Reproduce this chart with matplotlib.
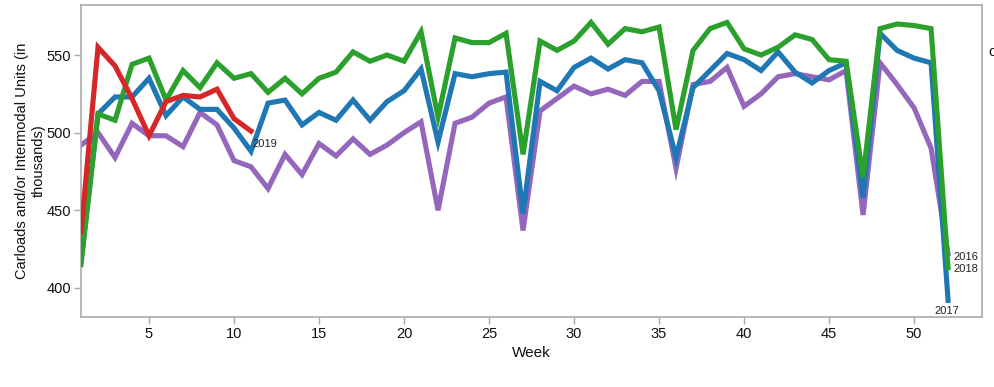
import matplotlib
matplotlib.use("Agg")
import matplotlib.pyplot as plt

plt.rcParams['font.family'] = ['Liberation Sans', 'DejaVu Sans']

weeks = list(range(1, 53))

# carloads + intermodal units, thousands
y2016 = [492, 500, 484, 506, 498, 498, 491, 513, 505, 482, 478, 464,
         486, 473, 493, 485, 496, 486, 492, 500, 507, 450, 506, 510,
         519, 523, 437, 514, 522, 530, 525, 528, 524, 533, 533, 477,
         531, 533, 542, 517, 525, 536, 538, 536, 534, 540, 447, 545,
         531, 516, 490, 422]
y2017 = [418, 512, 523, 523, 535, 511, 523, 515, 515, 503, 488, 519,
         521, 505, 513, 508, 521, 508, 520, 527, 541, 494, 538, 536,
         538, 539, 448, 533, 527, 542, 548, 541, 547, 545, 527, 484,
         529, 540, 551, 547, 540, 552, 539, 532, 540, 545, 458, 564,
         553, 548, 545, 392]
y2018 = [415, 512, 508, 544, 548, 521, 540, 529, 545, 535, 538, 526,
         535, 525, 535, 539, 552, 546, 550, 546, 565, 510, 561, 558,
         558, 564, 486, 559, 553, 559, 571, 557, 567, 565, 568, 502,
         553, 567, 571, 554, 550, 555, 563, 560, 547, 546, 471, 567,
         570, 569, 567, 413]
weeks2019 = list(range(1, 12))
y2019 = [436, 555, 543, 522, 498, 520, 524, 523, 528, 509, 501]

fig = plt.figure(figsize=(9.94, 3.87), dpi=100)
ax = fig.add_axes([0.0815, 0.181, 0.9065, 0.806])

lw = 3.7
ax.plot(weeks, y2016, color='#9467bd', lw=lw, solid_joinstyle='miter', zorder=2)
ax.plot(weeks, y2017, color='#1f77b4', lw=lw, solid_joinstyle='miter', zorder=3)
ax.plot(weeks, y2018, color='#2ca02c', lw=lw, solid_joinstyle='miter', zorder=4)
ax.plot(weeks2019, y2019, color='#d62728', lw=lw, solid_joinstyle='miter', zorder=5)

# end-of-line labels
lab = dict(fontsize=8, color='#222222')
ax.annotate('2016', (weeks[-1], y2016[-1]), xytext=(4, -2), textcoords='offset points',
            ha='left', va='center', **lab)
ax.annotate('2018', (weeks[-1], y2018[-1]), xytext=(4, -1), textcoords='offset points',
            ha='left', va='center', **lab)
ax.annotate('2017', (weeks[-1], y2017[-1]), xytext=(-1, -8), textcoords='offset points',
            ha='center', va='center', **lab)
ax.annotate('2019', (weeks2019[-1], y2019[-1]), xytext=(1, -9), textcoords='offset points',
            ha='left', va='center', **lab)

ax.set_xlim(1, 54)
ax.set_ylim(381.3, 582.2)
ax.set_xticks(range(5, 55, 5))
ax.set_yticks([400, 450, 500, 550])

for s in ax.spines.values():
    s.set_color('#aaaaaa')
    s.set_linewidth(1.2)
ax.tick_params(axis='both', colors='#aaaaaa', labelcolor='#111111', labelsize=10.5,
               length=5, width=1, pad=2)

ax.set_xlabel('Week', fontsize=11, color='#111111', labelpad=4)
ax.set_ylabel('Carloads and/or Intermodal Units (in\nthousands)', fontsize=10.5,
              color='#111111', labelpad=1, linespacing=1.2)

# clipped legend title at the right edge
fig.text(0.994, 0.865, 'c', fontsize=11, color='#111111', ha='left', va='center')

fig.savefig('out.png', dpi=100)
